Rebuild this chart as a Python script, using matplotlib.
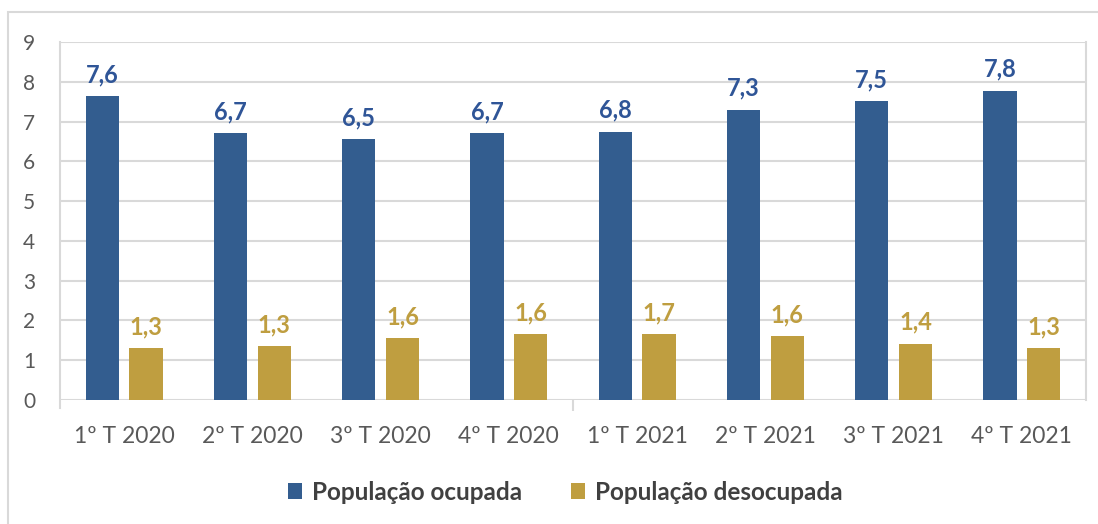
import matplotlib.pyplot as plt
import matplotlib.patches as mpatches
import numpy as np

plt.rcParams['font.family'] = ['Lato', 'DejaVu Sans']

# data
quarters = ["1º T 2020", "2º T 2020", "3º T 2020", "4º T 2020",
            "1º T 2021", "2º T 2021", "3º T 2021", "4º T 2021"]
ocupada = [7.65, 6.7, 6.55, 6.7, 6.75, 7.3, 7.52, 7.78]
desocupada = [1.3, 1.35, 1.55, 1.65, 1.65, 1.6, 1.42, 1.3]
labels_ocupada = ["7,6", "6,7", "6,5", "6,7", "6,8", "7,3", "7,5", "7,8"]
labels_desocupada = ["1,3", "1,3", "1,6", "1,6", "1,7", "1,6", "1,4", "1,3"]

blue = "#335D8F"
gold = "#BF9E40"
grid_c = "#D9D9D9"

fig = plt.figure(figsize=(10.98, 5.24), dpi=100)
# outer chart border (cut off at right and bottom like the screenshot)
fig.patches.append(mpatches.Rectangle((8 / 1098, -0.1), 1.2, 0.1 + (524 - 12) / 524,
                                      transform=fig.transFigure, fill=False,
                                      edgecolor=grid_c, linewidth=1.5))

ax = fig.add_axes([60 / 1098, 124 / 524, 1026 / 1098, 358 / 524])

x = np.arange(len(quarters))
w = 0.26
off = 0.17
b1 = ax.bar(x - off, ocupada, w, color=blue, label="População ocupada", zorder=3)
b2 = ax.bar(x + off, desocupada, w, color=gold, label="População desocupada", zorder=3)

for bar, t in zip(b1, labels_ocupada):
    ax.annotate(t, (bar.get_x() + bar.get_width() / 2, bar.get_height()),
                xytext=(0, 7), textcoords="offset points", ha="center", va="bottom",
                color="#2F5597", fontsize=17, fontweight="bold")
for bar, t in zip(b2, labels_desocupada):
    ax.annotate(t, (bar.get_x() + bar.get_width() / 2, bar.get_height()),
                xytext=(0, 7), textcoords="offset points", ha="center", va="bottom",
                color=gold, fontsize=17, fontweight="bold")

ax.set_xlim(-0.5, len(quarters) - 0.5)
ax.set_ylim(0, 9)
ax.set_yticks(range(10))
ax.yaxis.grid(True, color=grid_c, linewidth=1.5, zorder=0)
ax.set_xticks(x)
ax.set_xticklabels(quarters)
ax.set_xticks([3.5], minor=True)
ax.tick_params(axis="x", which="major", length=0, pad=19, labelsize=16.5, labelcolor="#595959")
ax.tick_params(axis="x", which="minor", length=8, color=grid_c, width=1.5)
ax.tick_params(axis="y", length=0, pad=18, labelsize=15, labelcolor="#595959")

for s in ["top", "bottom"]:
    ax.spines[s].set_visible(False)
ax.spines["left"].set_color(grid_c)
ax.spines["left"].set_linewidth(1.5)
ax.spines["left"].set_bounds(-0.2, 9)
ax.spines["right"].set_color(grid_c)
ax.spines["right"].set_linewidth(1.5)

leg = fig.legend(handles=[b1, b2], loc="center", bbox_to_anchor=(565 / 1098, 1 - 492 / 524),
                 ncol=2, frameon=False, fontsize=17.5, handlelength=0.6, handleheight=0.6,
                 columnspacing=2.0, handletextpad=0.4)
for t in leg.get_texts():
    t.set_color("#404040")
    t.set_fontweight("bold")

fig.savefig("out.png", dpi=100)
